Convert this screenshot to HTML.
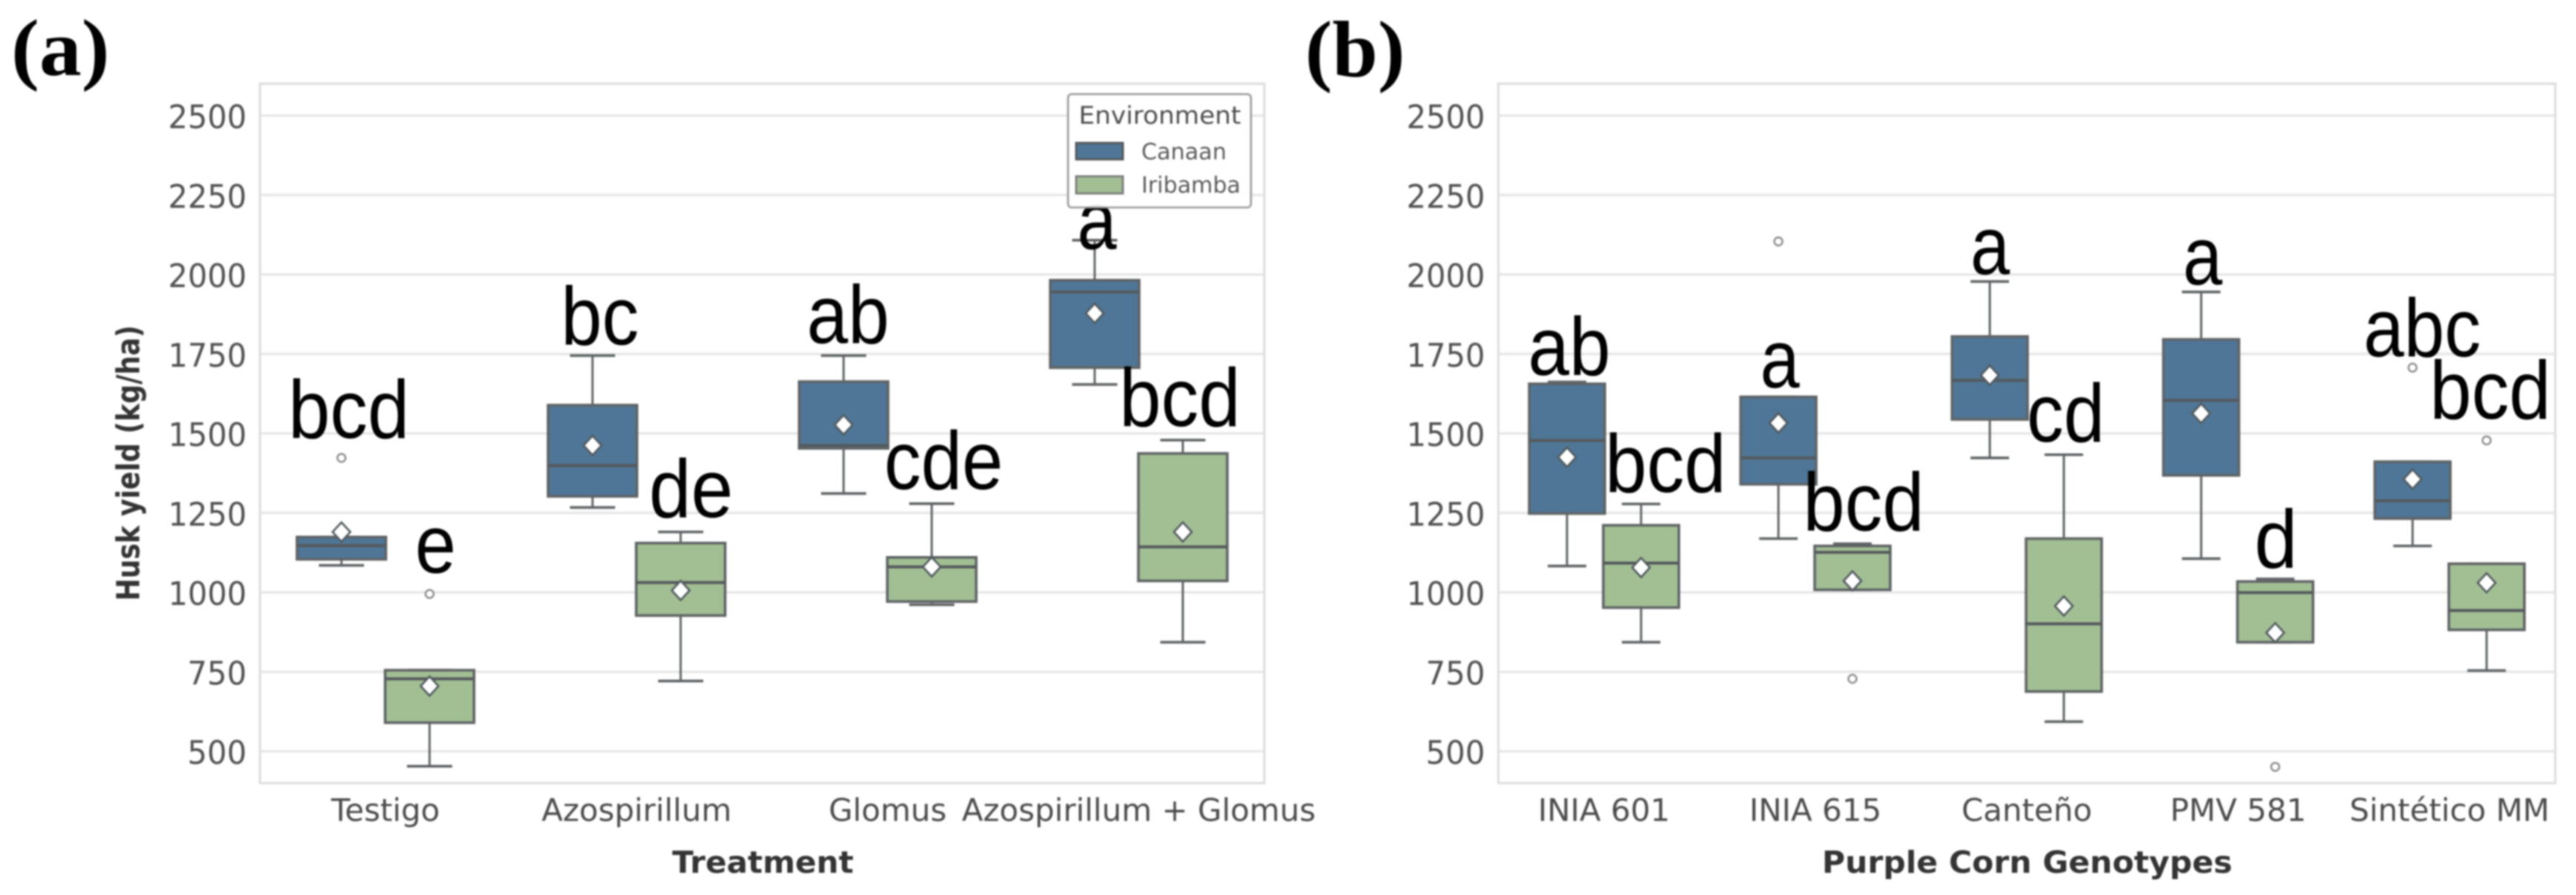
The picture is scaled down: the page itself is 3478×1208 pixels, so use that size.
<!DOCTYPE html>
<html lang="en">
<head>
<meta charset="utf-8">
<title>Husk yield box plots</title>
<style>
html,body{margin:0;padding:0;background:#fff;width:3478px;height:1208px;overflow:hidden}
svg{display:block;filter:blur(1.1px)}
text{font-family:"DejaVu Sans","Liberation Sans",sans-serif}
</style>
</head>
<body>
<svg id="chart" xmlns="http://www.w3.org/2000/svg" width="3478" height="1208" viewBox="0 0 3478 1208"></svg>
<script>
const yTicks = [500, 750, 1000, 1250, 1500, 1750, 2000, 2250, 2500];

const categoriesA = ["Testigo", "Azospirillum", "Glomus", "Azospirillum + Glomus"];
const canaanQ1A = [1104, 1302, 1453, 1707];
const canaanMedianA = [1147, 1399, 1462, 1945];
const canaanQ3A = [1174, 1589, 1663, 1982];
const canaanLowA = [1085, 1267, 1311, 1654];
const canaanHighA = [1174, 1745, 1745, 2108];
const canaanMeanA = [1190, 1462, 1527, 1878];
const canaanOutlierA = [1423, null, null, null];
const iribambaQ1A = [590, 927, 971, 1036];
const iribambaMedianA = [728, 1031, 1080, 1143];
const iribambaQ3A = [755, 1155, 1110, 1437];
const iribambaLowA = [453, 721, 961, 843];
const iribambaHighA = [755, 1190, 1279, 1479];
const iribambaMeanA = [705, 1006, 1080, 1190];
const iribambaOutlierA = [995, null, null, null];
const canaanLettersA = ["bcd", "bc", "ab", "a"];
const canaanLetterValueA = [1486, 1780, 1784, 2080];
const iribambaLettersA = ["e", "de", "cde", "bcd"];
const iribambaLetterValueA = [1062, 1237, 1325, 1523];

const categoriesB = ["INIA 601", "INIA 615", "Canteño", "PMV 581", "Sintético MM"];
const canaanQ1B = [1248, 1340, 1544, 1368, 1232];
const canaanMedianB = [1478, 1423, 1667, 1604, 1288];
const canaanQ3B = [1656, 1615, 1805, 1796, 1411];
const canaanLowB = [1083, 1169, 1423, 1106, 1146];
const canaanHighB = [1662, 1615, 1978, 1945, 1411];
const canaanMeanB = [1425, 1533, 1683, 1563, 1356];
const canaanOutlierB = [null, 2104, null, null, 1707];
const iribambaQ1B = [952, 1008, 688, 843, 882];
const iribambaMedianB = [1092, 1126, 901, 999, 943];
const iribambaQ3B = [1211, 1146, 1169, 1034, 1090];
const iribambaLowB = [843, 1008, 593, 843, 754];
const iribambaHighB = [1278, 1153, 1433, 1042, 1090];
const iribambaMeanB = [1078, 1036, 957, 873, 1030];
const iribambaOutlierB = [null, 728, null, 451, 1478];
const canaanLettersB = ["ab", "a", "a", "a", "abc"];
const canaanLetterValueB = [1684, 1645, 2001, 1969, 1742];
const iribambaLettersB = ["bcd", "bcd", "cd", "d", "bcd"];
const iribambaLetterValueB = [1316, 1195, 1474, 1078, 1547];

const NS = "http://www.w3.org/2000/svg";
const root = document.getElementById("chart");
const CAN = "#4f7696";
const IRI = "#a2bf94";
const EDGE = "#5f6365";
const GRID = "#e6e6e6";
const letterW = {a:0.479,b:0.525,c:0.423,d:0.525,e:0.498};

function mk(tag, attrs, parent, txt){
  const n = document.createElementNS(NS, tag);
  for(const k in attrs) n.setAttribute(k, attrs[k]);
  if(txt !== undefined) n.textContent = txt;
  (parent || root).appendChild(n);
  return n;
}
function yScale(v){ return 1014 - (v - 500) * 0.429; }

function drawSeries(panel, g, catCount, left, width, boxW, capW, off, sName, color, q1, med, q3, lo, hi, mean, outl, cats){
  const band = width / catCount;
  for(let i = 0; i < catCount; i++){
    const cx = left + band * (i + 0.5) + off;
    const grp = mk("g", {}, g);
    
    

    const w1 = mk("line", {x1:cx, x2:cx, y1:yScale(q3[i]), y2:yScale(hi[i]), stroke:EDGE, "stroke-width":3}, grp);
    
    
    const w2 = mk("line", {x1:cx, x2:cx, y1:yScale(q1[i]), y2:yScale(lo[i]), stroke:EDGE, "stroke-width":3}, grp);
    
    
    const c1 = mk("line", {x1:cx-capW/2, x2:cx+capW/2, y1:yScale(hi[i]), y2:yScale(hi[i]), stroke:EDGE, "stroke-width":3.6}, grp);
    
    
    const c2 = mk("line", {x1:cx-capW/2, x2:cx+capW/2, y1:yScale(lo[i]), y2:yScale(lo[i]), stroke:EDGE, "stroke-width":3.6}, grp);
    
    

    const b = mk("rect", {x:cx-boxW/2, y:yScale(q3[i]), width:boxW, height:yScale(q1[i])-yScale(q3[i]), fill:color, stroke:EDGE, "stroke-width":3.6}, grp);
    
    
    const m = mk("line", {x1:cx-boxW/2, x2:cx+boxW/2, y1:yScale(med[i]), y2:yScale(med[i]), stroke:"#55595c", "stroke-width":4}, grp);
    
    

    const my = yScale(mean[i]);
    const d = mk("polygon", {points:(cx-12)+","+my+" "+cx+","+(my-13)+" "+(cx+12)+","+my+" "+cx+","+(my+13), fill:"#fff", stroke:"#50585c", "stroke-width":2.6}, grp);
    
    

    if(outl[i] !== null){
      const o = mk("circle", {cx:cx, cy:yScale(outl[i]), r:5.5, fill:"#fff", stroke:"#8a8a8a", "stroke-width":2.4}, grp);
      
      
    }
  }
}

function drawLetters(panel, g, catCount, left, width, off, letters, letterV, letterDx){
  const band = width / catCount;
  for(let i = 0; i < catCount; i++){
    const cx = left + band * (i + 0.5) + off + letterDx[i];
    let em = 0;
    for(const ch of letters[i]) em += letterW[ch];
    const t = mk("text", {x:cx, y:yScale(letterV[i]), "text-anchor":"middle", "font-size":111, fill:"#000",
      textLength:(em*111).toFixed(1), lengthAdjust:"spacingAndGlyphs",
      style:'font-family:"Liberation Sans",sans-serif'}, g, letters[i]);
    
    
  }
}

function drawAxes(panel, g, left, width, cats){
  const top = 113, bottom = 1057;
  const band = width / cats.length;
  yTicks.forEach(function(v){
    const gl = mk("line", {x1:left, x2:left+width, y1:yScale(v), y2:yScale(v), stroke:GRID, "stroke-width":3.2}, g);
    
    
    const tl = mk("text", {x:left-18, y:yScale(v)+17, "text-anchor":"end", "font-size":44, fill:"#505050", textLength:(String(v).length*26.5).toFixed(0), lengthAdjust:"spacingAndGlyphs"}, g, String(v));
    
    
  });
  const frame = mk("rect", {x:left, y:top, width:width, height:bottom-top, fill:"none", stroke:"#dedede", "stroke-width":3.2}, g);
  
  
  cats.forEach(function(c, i){
    const t = mk("text", {x:left+band*(i+0.5), y:1108, "text-anchor":"middle", "font-size":42, fill:"#4a4a4a"}, g, c);
    
    
  });
}

/* Panel A */
const panelA = mk("g", {});


const A = {left:351, width:1356};
drawAxes("panel-a", panelA, A.left, A.width, categoriesA);
drawSeries("panel-a", panelA, 4, A.left, A.width, 120, 61, -59.5, "canaan", CAN, canaanQ1A, canaanMedianA, canaanQ3A, canaanLowA, canaanHighA, canaanMeanA, canaanOutlierA, categoriesA);
drawSeries("panel-a", panelA, 4, A.left, A.width, 120, 61, 59.5, "iribamba", IRI, iribambaQ1A, iribambaMedianA, iribambaQ3A, iribambaLowA, iribambaHighA, iribambaMeanA, iribambaOutlierA, categoriesA);
drawLetters("panel-a", panelA, 4, A.left, A.width, -59.5, canaanLettersA, canaanLetterValueA, [10, 10, 6, 3]);
drawLetters("panel-a", panelA, 4, A.left, A.width, 59.5, iribambaLettersA, iribambaLetterValueA, [8, 14, 16, -4]);

const yTitle = mk("text", {transform:"translate(188,625) rotate(-90)", "text-anchor":"middle", "font-size":43, "font-weight":"bold", fill:"#333", textLength:372, lengthAdjust:"spacingAndGlyphs"}, panelA, "Husk yield (kg/ha)");


const xTitleA = mk("text", {x:1030, y:1178, "text-anchor":"middle", "font-size":41, "font-weight":"bold", fill:"#333", textLength:245, lengthAdjust:"spacingAndGlyphs"}, panelA, "Treatment");


const tagA = mk("text", {x:15, y:101, "font-size":108, "font-weight":"bold", fill:"#000", style:'font-family:"Liberation Serif",serif', textLength:133, lengthAdjust:"spacingAndGlyphs"}, panelA, "(a)");



/* Legend */
const legend = mk("g", {}, panelA);


const legendBox = mk("rect", {x:1442, y:127, width:247, height:153, rx:5, fill:"#fff", "fill-opacity":0.92, stroke:"#9a9a9a", "stroke-width":2.6}, legend);


const legendTitle = mk("text", {x:1566, y:167, "text-anchor":"middle", "font-size":33, fill:"#4d4d4d", textLength:219, lengthAdjust:"spacingAndGlyphs"}, legend, "Environment");


const swatchC = mk("rect", {x:1453, y:193, width:63, height:22, fill:CAN, stroke:"#55595b", "stroke-width":3}, legend);


const labelC = mk("text", {x:1541, y:215, "font-size":30, fill:"#5a5a5a", textLength:115, lengthAdjust:"spacingAndGlyphs"}, legend, "Canaan");


const swatchI = mk("rect", {x:1453, y:238, width:63, height:23, fill:IRI, stroke:"#7d807c", "stroke-width":3}, legend);


const labelI = mk("text", {x:1541, y:260, "font-size":30, fill:"#5a5a5a", textLength:134, lengthAdjust:"spacingAndGlyphs"}, legend, "Iribamba");



/* Panel B */
const panelB = mk("g", {});


const B = {left:2023, width:1427};
drawAxes("panel-b", panelB, B.left, B.width, categoriesB);
drawSeries("panel-b", panelB, 5, B.left, B.width, 102, 52, -50, "canaan", CAN, canaanQ1B, canaanMedianB, canaanQ3B, canaanLowB, canaanHighB, canaanMeanB, canaanOutlierB, categoriesB);
drawSeries("panel-b", panelB, 5, B.left, B.width, 102, 52, 50, "iribamba", IRI, iribambaQ1B, iribambaMedianB, iribambaQ3B, iribambaLowB, iribambaHighB, iribambaMeanB, iribambaOutlierB, categoriesB);
drawLetters("panel-b", panelB, 5, B.left, B.width, -50, canaanLettersB, canaanLetterValueB, [3, 2, 0.5, 2, 13]);
drawLetters("panel-b", panelB, 5, B.left, B.width, 50, iribambaLettersB, iribambaLetterValueB, [33, 15, 2.5, 1, 5]);

const xTitleB = mk("text", {x:2737, y:1178, "text-anchor":"middle", "font-size":41, "font-weight":"bold", fill:"#333", textLength:554, lengthAdjust:"spacingAndGlyphs"}, panelB, "Purple Corn Genotypes");


const tagB = mk("text", {x:1762, y:103, "font-size":108, "font-weight":"bold", fill:"#000", style:'font-family:"Liberation Serif",serif', textLength:135, lengthAdjust:"spacingAndGlyphs"}, panelB, "(b)");


</script>
</body>
</html>
